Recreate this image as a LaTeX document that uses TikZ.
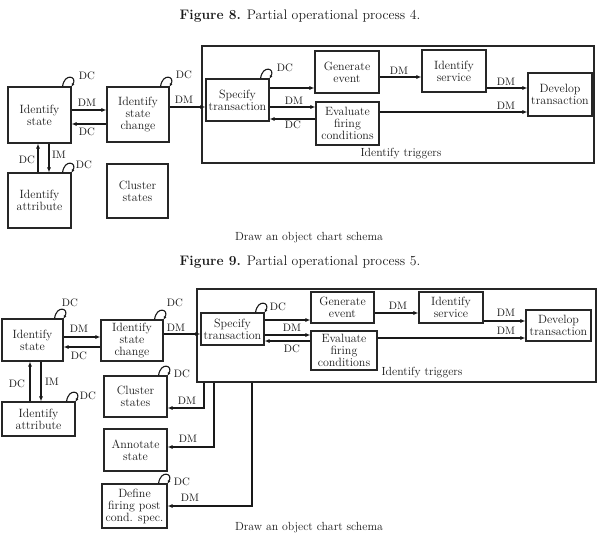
\documentclass[tikz,border=0pt]{standalone}
\usetikzlibrary{arrows.meta,calc}
\newcommand{\bxfont}{\fontsize{12}{12}\selectfont}
\newcommand{\lblfont}{\fontsize{10.8}{11}\selectfont}
\newcommand{\capfont}{\fontsize{13.8}{15}\selectfont}
\newcommand{\schfont}{\fontsize{11.8}{13}\selectfont}
\tikzset{
  box/.style={draw=black!85, line width=1.1pt, inner sep=1pt, align=center, font=\bxfont, text=black!90},
  arr/.style={draw=black!90, line width=1.2pt, -{Latex[length=5pt,width=4pt]}},
  selfloop/.style={draw=black!90, line width=1.1pt, -{Latex[length=3pt,width=3pt]}},
  lbl/.style={font=\lblfont, text=black!90, inner sep=0pt},
  figcap/.style={font=\capfont, text=black!90, inner sep=0pt},
  sch/.style={font=\schfont, text=black!90, inner sep=0pt},
}
\begin{document}
\begin{tikzpicture}[x=1pt,y=-1pt]
\useasboundingbox (0,0) rectangle (601,532);
% ---------------- Figure 8 ----------------
\node[figcap] (cap8) at (300,16) {\textbf{Figure 8.} Partial operational process 4.};
\node[box, minimum width=392pt, minimum height=117pt] (T8) at (398,104.5) {};
\node[box, minimum width=63pt, minimum height=56pt] (s8) at (39.5,115) {Identify\\state};
\node[box, minimum width=62pt, minimum height=55pt] (c8) at (138,114.5) {Identify\\state\\change};
\node[box, minimum width=63pt, minimum height=55pt] (a8) at (39.5,200.5) {Identify\\attribute};
\node[box, minimum width=61pt, minimum height=54pt] (cl8) at (137.5,191) {Cluster\\states};
\node[box, minimum width=63pt, minimum height=42pt] (sp8) at (237.5,100) {Specify\\transaction};
\node[box, minimum width=64pt, minimum height=42pt] (g8) at (347,72) {Generate\\event};
\node[box, minimum width=63pt, minimum height=43pt] (e8) at (347.5,123.5) {Evaluate\\firing\\conditions};
\node[box, minimum width=64pt, minimum height=42pt] (is8) at (454,71) {Identify\\service};
\node[box, minimum width=64pt, minimum height=43pt] (d8) at (560,94.5) {Develop\\transaction};
\node[sch] (trg8) at (401,154) {Identify triggers};
\node[sch] (sch8) at (309,238) {Draw an object chart schema};
% connectors
\draw[arr] (s8.east |- 0,110) -- (c8.west |- 0,110);
\draw[arr] (c8.west |- 0,124) -- (s8.east |- 0,124);
\draw[arr] (c8.east |- 0,107) -- (sp8.west |- 0,107);
\draw[arr] (a8.north -| 38,0) -- (s8.south -| 38,0);
\draw[arr] (s8.south -| 49,0) -- (a8.north -| 49,0);
\draw[arr] (sp8.east |- 0,88) -- (g8.west |- 0,88);
\draw[arr] (sp8.east |- 0,107) -- (e8.west |- 0,107);
\draw[arr] (e8.west |- 0,119) -- (sp8.east |- 0,119);
\draw[arr] (g8.east |- 0,77) -- (is8.west |- 0,77);
\draw[arr] (is8.east |- 0,88) -- (d8.west |- 0,88);
\draw[arr] (e8.east |- 0,112) -- (d8.west |- 0,112);
% self loops
\foreach \n in {s8,c8,a8,sp8}{
  \draw[selfloop] ($(\n.north east)+(-9,0)$) .. controls +(2,-14) and +(6,-10) .. (\n.north east);
}
% labels
\node[lbl] at (87,76) {DC};
\node[lbl] at (184,75) {DC};
\node[lbl] at (84,165) {DC};
\node[lbl] at (285,68) {DC};
\node[lbl] at (87,103) {DM};
\node[lbl] at (87,132) {DC};
\node[lbl] at (184,100) {DM};
\node[lbl] at (27,160) {DC};
\node[lbl] at (59,155) {IM};
\node[lbl] at (294,101) {DM};
\node[lbl] at (293,125) {DC};
\node[lbl] at (399,71) {DM};
\node[lbl] at (506,82) {DM};
\node[lbl] at (506,106) {DM};
% ---------------- Figure 9 ----------------
\node[figcap] (cap9) at (300,262) {\textbf{Figure 9.} Partial operational process 5.};
\node[box, minimum width=399pt, minimum height=93pt] (T9) at (396.5,335.5) {};
\node[box, minimum width=61pt, minimum height=42pt] (s9) at (32.5,340) {Identify\\state};
\node[box, minimum width=62pt, minimum height=41pt] (c9) at (132,340.5) {Identify\\state\\change};
\node[box, minimum width=73pt, minimum height=34pt] (a9) at (38.5,419) {Identify\\attribute};
\node[box, minimum width=63pt, minimum height=41pt] (cl9) at (135.5,396.5) {Cluster\\states};
\node[box, minimum width=63pt, minimum height=42pt] (an9) at (135.5,450) {Annotate\\state};
\node[box, minimum width=65pt, minimum height=44pt] (df9) at (134.5,506) {Define\\firing post\\cond. spec.};
\node[box, minimum width=63pt, minimum height=32pt] (sp9) at (232.5,329) {Specify\\transaction};
\node[box, minimum width=63pt, minimum height=31pt] (g9) at (342.5,307.5) {Generate\\event};
\node[box, minimum width=66pt, minimum height=39pt] (e9) at (344,350.5) {Evaluate\\firing\\conditions};
\node[box, minimum width=64pt, minimum height=31pt] (is9) at (451,307.5) {Identify\\service};
\node[box, minimum width=65pt, minimum height=31pt] (d9) at (558.5,325.5) {Develop\\transaction};
\node[sch] (trg9) at (422,373) {Identify triggers};
\node[sch, anchor=base] (sch9) at (309,530) {Draw an object chart schema};
% connectors
\draw[arr] (s9.east |- 0,337) -- (c9.west |- 0,337);
\draw[arr] (c9.west |- 0,347) -- (s9.east |- 0,347);
\draw[arr] (c9.east |- 0,334) -- (sp9.west |- 0,334);
\draw[arr] (a9.north -| 30,0) -- (s9.south -| 30,0);
\draw[arr] (s9.south -| 41,0) -- (a9.north -| 41,0);
\draw[arr] (sp9.east |- 0,320) -- (g9.west |- 0,320);
\draw[arr] (sp9.east |- 0,335) -- (e9.west |- 0,335);
\draw[arr] (e9.west |- 0,341) -- (sp9.east |- 0,341);
\draw[arr] (g9.east |- 0,313) -- (is9.west |- 0,313);
\draw[arr] (is9.east |- 0,321) -- (d9.west |- 0,321);
\draw[arr] (e9.east |- 0,338) -- (d9.west |- 0,338);
\draw[arr] (T9.south -| 204,0) |- (cl9.east |- 0,408);
\draw[arr] (T9.south -| 214,0) |- (an9.east |- 0,447);
\draw[arr] (T9.south -| 252,0) |- (df9.east |- 0,506);
% self loops
\foreach \n in {s9,c9,a9,cl9,sp9,df9}{
  \draw[selfloop] ($(\n.north east)+(-9,0)$) .. controls +(2,-14) and +(6,-10) .. (\n.north east);
}
% labels
\node[lbl] at (70,303) {DC};
\node[lbl] at (175,303) {DC};
\node[lbl] at (88,396) {DC};
\node[lbl] at (182,374) {DC};
\node[lbl] at (278,307) {DC};
\node[lbl] at (182,482) {DC};
\node[lbl] at (79,329) {DM};
\node[lbl] at (79,356) {DC};
\node[lbl] at (176,328) {DM};
\node[lbl] at (17,384) {DC};
\node[lbl] at (52,382) {IM};
\node[lbl] at (292,328) {DM};
\node[lbl] at (292,349) {DC};
\node[lbl] at (398,306) {DM};
\node[lbl] at (506,313) {DM};
\node[lbl] at (506,331) {DM};
\node[lbl] at (187,401) {DM};
\node[lbl] at (188,439) {DM};
\node[lbl] at (190,498) {DM};
\end{tikzpicture}
\end{document}
